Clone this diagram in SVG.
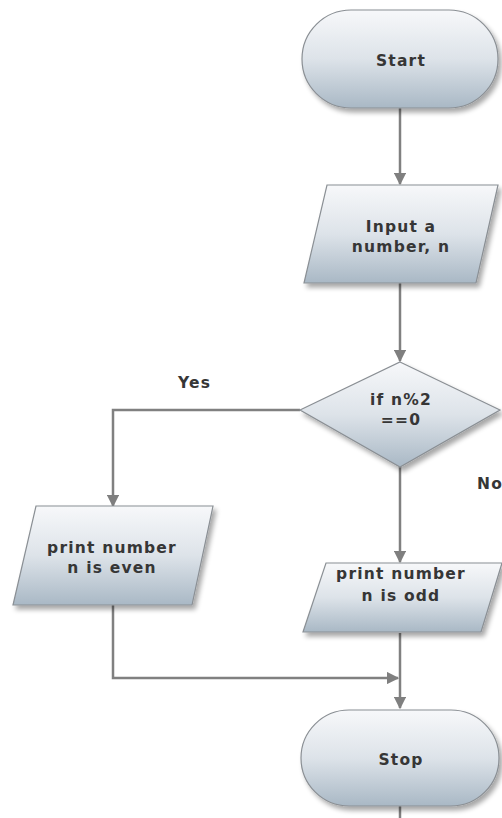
<svg xmlns="http://www.w3.org/2000/svg" width="502" height="818" viewBox="0 0 502 818">
<defs>
<linearGradient id="g" x1="0" y1="0" x2="0" y2="1">
<stop offset="0" stop-color="#f7f8fa"/>
<stop offset="0.5" stop-color="#dde3e9"/>
<stop offset="1" stop-color="#a9b8c5"/>
</linearGradient>
<filter id="sh" x="-10%" y="-10%" width="130%" height="140%">
<feGaussianBlur in="SourceAlpha" stdDeviation="2.5"/>
<feOffset dx="3" dy="4" result="b"/>
<feComponentTransfer><feFuncA type="linear" slope="0.35"/></feComponentTransfer>
<feMerge><feMergeNode/><feMergeNode in="SourceGraphic"/></feMerge>
</filter>
<marker id="ah" viewBox="0 0 10 10" refX="9" refY="5" markerWidth="5" markerHeight="5" orient="auto" markerUnits="strokeWidth">
<path d="M0,0 L10,5 L0,10 z" fill="#7f7f7f"/>
</marker>
</defs>
<style>
.shape{fill:url(#g);stroke:#8a8f94;stroke-width:1.2;filter:url(#sh)}
.t{font-family:"DejaVu Sans",Verdana,sans-serif;font-weight:bold;font-size:15.5px;letter-spacing:1.2px;fill:#363636;text-anchor:middle}
.lbl{font-family:"DejaVu Sans",Verdana,sans-serif;font-weight:bold;font-size:15.5px;letter-spacing:1.2px;fill:#363636}
.c{fill:none;stroke:#808080;stroke-width:2.5}
</style>
<rect width="502" height="818" fill="#ffffff"/>
<g id="connectors">
<path class="c" d="M400,108 L400,184" marker-end="url(#ah)"/>
<path class="c" d="M400,283 L400,361" marker-end="url(#ah)"/>
<path class="c" d="M300,410 L113,410 L113,506" marker-end="url(#ah)"/>
<path class="c" d="M400,467 L400,562" marker-end="url(#ah)"/>
<path class="c" d="M113,605 L113,678 L398,678" marker-end="url(#ah)"/>
<path class="c" d="M400,633 L400,708" marker-end="url(#ah)"/>
<path class="c" d="M400,806 L400,818"/>
<text class="lbl" x="178" y="388">Yes</text>
<text class="lbl" x="477" y="489">No</text>
</g>
<g id="start">
<rect class="shape" x="302" y="10" width="196" height="98" rx="49" ry="49"/>
<text class="t" x="401" y="66">Start</text>
</g>
<g id="input">
<polygon class="shape" points="327,185 498,185 476,283 304,283"/>
<text class="t" x="401" y="232">Input a</text>
<text class="t" x="401" y="252">number, n</text>
</g>
<g id="decision">
<polygon class="shape" points="400,362 500,410 400,467 300,410"/>
<text class="t" x="401" y="405">if n%2</text>
<text class="t" x="401" y="425">==0</text>
</g>
<g id="even">
<polygon class="shape" points="36,506 213,506 192,605 13,605"/>
<text class="t" x="112" y="553">print number</text>
<text class="t" x="112" y="573">n is even</text>
</g>
<g id="odd">
<polygon class="shape" points="326,563 502,563 481,632 303,632"/>
<text class="t" x="401" y="579">print number</text>
<text class="t" x="401" y="601">n is odd</text>
</g>
<g id="stop">
<rect class="shape" x="301" y="710" width="198" height="96" rx="48" ry="48"/>
<text class="t" x="401" y="765">Stop</text>
</g>
</svg>
